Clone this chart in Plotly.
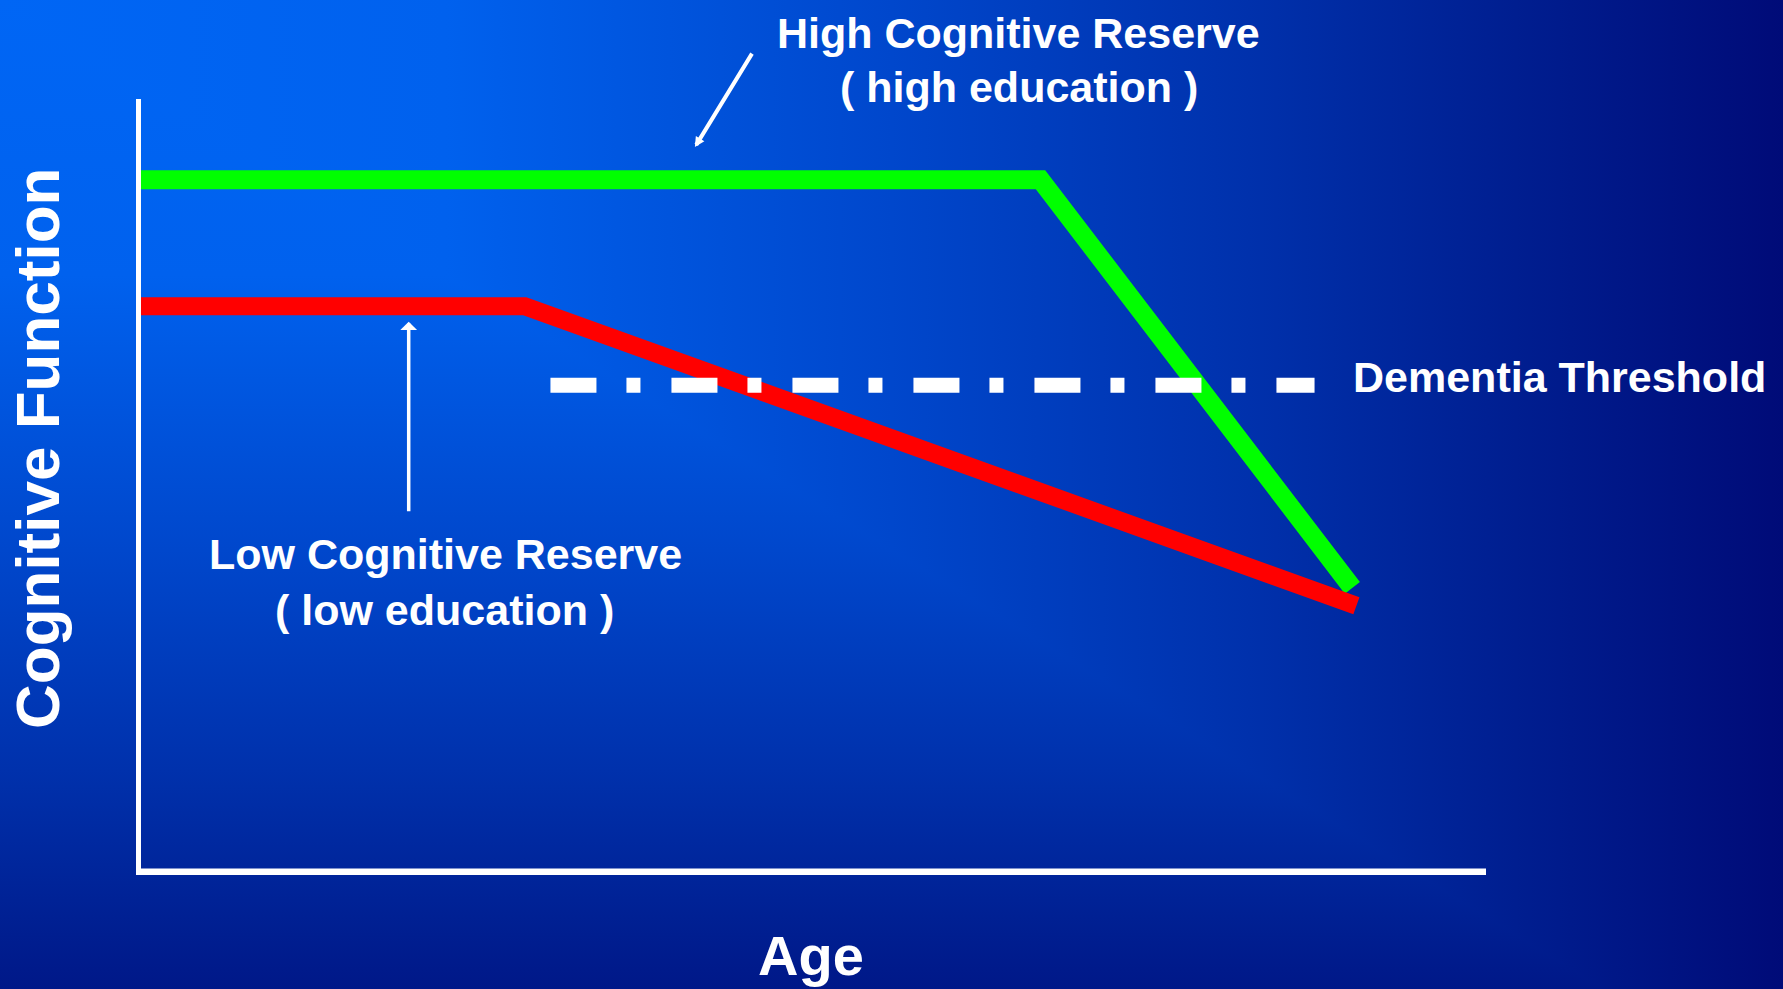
import base64
import plotly.graph_objects as go

# ---- schematic data (arbitrary units: age on x, cognitive function on y) ----
X_RANGE = [0, 10]
Y_RANGE = [0, 10]

high_reserve_x = [0, 6.70, 9.01]
high_reserve_y = [8.96, 8.96, 3.70]

low_reserve_x = [0, 2.88, 9.04]
low_reserve_y = [7.33, 7.33, 3.47]

threshold_x = [3.07, 8.73]
threshold_y = [6.31, 6.31]

high_label = ["High Cognitive Reserve", "( high education )"]
low_label = ["Low Cognitive Reserve", "( low education )"]
threshold_label = "Dementia Threshold"
x_title = "Age"
y_title = "Cognitive Function"

# ---- figure geometry ----
W, H = 1783, 989
M_L, M_R, M_T, M_B = 136, 297, 99, 114
PW, PH = W - M_L - M_R, H - M_T - M_B


def px_x(px):
    """Pixel column -> paper x."""
    return (px - M_L) / PW


def px_y(py):
    """Pixel row -> paper y."""
    return (H - M_B - py) / PH


# ---- slide background: corner gradient (bright top-left, navy at right/bottom) ----
stops = [(0.0, "#0066F5"), (0.25, "#0061EE"), (0.5, "#0047CC"),
         (0.7, "#0031AC"), (0.85, "#001E90"), (1.0, "#000B78")]
stop_xml = "".join(f'<stop offset="{o}" stop-color="{c}"/>' for o, c in stops)
diag_h = 1100
cut_x = W * H / diag_h
svg = (
    f'<svg xmlns="http://www.w3.org/2000/svg" width="{W}" height="{H}" viewBox="0 0 {W} {H}">'
    f'<defs>'
    f'<linearGradient id="gx" gradientUnits="userSpaceOnUse" x1="0" y1="0" x2="{W}" y2="0">{stop_xml}</linearGradient>'
    f'<linearGradient id="gy" gradientUnits="userSpaceOnUse" x1="0" y1="0" x2="0" y2="{diag_h}">{stop_xml}</linearGradient>'
    f'</defs>'
    f'<rect x="0" y="0" width="{W}" height="{H}" fill="url(#gx)"/>'
    f'<polygon points="0,0 {cut_x:.1f},{H} 0,{H}" fill="url(#gy)"/>'
    f'</svg>'
)
bg_src = "data:image/svg+xml;base64," + base64.b64encode(svg.encode()).decode()

fig = go.Figure()

fig.add_trace(go.Scatter(
    x=high_reserve_x, y=high_reserve_y, mode="lines",
    line=dict(color="#00FF00", width=19), hoverinfo="skip", showlegend=False,
))
fig.add_trace(go.Scatter(
    x=low_reserve_x, y=low_reserve_y, mode="lines",
    line=dict(color="#FF0000", width=18), hoverinfo="skip", showlegend=False,
))
fig.add_trace(go.Scatter(
    x=threshold_x, y=threshold_y, mode="lines",
    line=dict(color="white", width=15, dash="46px,30px,14px,31px"),
    hoverinfo="skip", showlegend=False,
))

# axis lines drawn on top of the curves
fig.add_shape(type="line", xref="x", yref="y", x0=0, x1=0, y0=-0.04, y1=10,
              line=dict(color="white", width=10), layer="above")
fig.add_shape(type="line", xref="x", yref="y", x0=-0.04, x1=10, y0=0, y1=0,
              line=dict(color="white", width=13), layer="above")

label_font = dict(family="Liberation Sans, Arial, sans-serif",
                  size=43, color="white", weight="bold")

annotations = [
    dict(text=high_label[0], x=px_x(1019), y=px_y(33), xanchor="center", yanchor="middle"),
    dict(text=high_label[1], x=px_x(1019), y=px_y(87), xanchor="center", yanchor="middle"),
    dict(text=low_label[0], x=px_x(445), y=px_y(554), xanchor="center", yanchor="middle"),
    dict(text=low_label[1], x=px_x(444), y=px_y(610), xanchor="center", yanchor="middle"),
    dict(text=threshold_label, x=px_x(1351), y=px_y(377), xanchor="left", yanchor="middle"),
]
for a in annotations:
    fig.add_annotation(xref="paper", yref="paper", showarrow=False, font=label_font, **a)

fig.add_annotation(text=x_title, xref="paper", yref="paper", x=px_x(811), y=px_y(955),
                   xanchor="center", yanchor="middle", showarrow=False,
                   font=dict(label_font, size=56))
fig.add_annotation(text=y_title, xref="paper", yref="paper", x=px_x(38), y=px_y(449),
                   xanchor="center", yanchor="middle", showarrow=False, textangle=-90,
                   font=dict(family="Liberation Sans, Arial, sans-serif", size=62,
                             color="white", weight="bold"))

# pointer arrows
fig.add_annotation(text="", x=2.02, y=7.13, xref="x", yref="y", ax=0, ay=191,
                   showarrow=True, arrowhead=1, arrowsize=0.8, arrowwidth=3.5,
                   arrowcolor="white", standoff=0)
fig.add_annotation(text="", x=4.14, y=9.38, xref="x", yref="y", ax=58, ay=-95,
                   showarrow=True, arrowhead=2, arrowsize=0.5, arrowwidth=4,
                   arrowcolor="white", standoff=0)

fig.update_layout(
    width=W, height=H,
    margin=dict(l=M_L, r=M_R, t=M_T, b=M_B, pad=0),
    paper_bgcolor="#0030A8", plot_bgcolor="rgba(0,0,0,0)",
    images=[dict(source=bg_src, xref="paper", yref="paper",
                 x=px_x(0), y=px_y(0), sizex=W / PW, sizey=H / PH,
                 xanchor="left", yanchor="top", sizing="stretch", layer="below")],
    xaxis=dict(range=X_RANGE, visible=False, fixedrange=True),
    yaxis=dict(range=Y_RANGE, visible=False, fixedrange=True),
    showlegend=False,
)

fig.write_html("out.html", config={"displayModeBar": False})
